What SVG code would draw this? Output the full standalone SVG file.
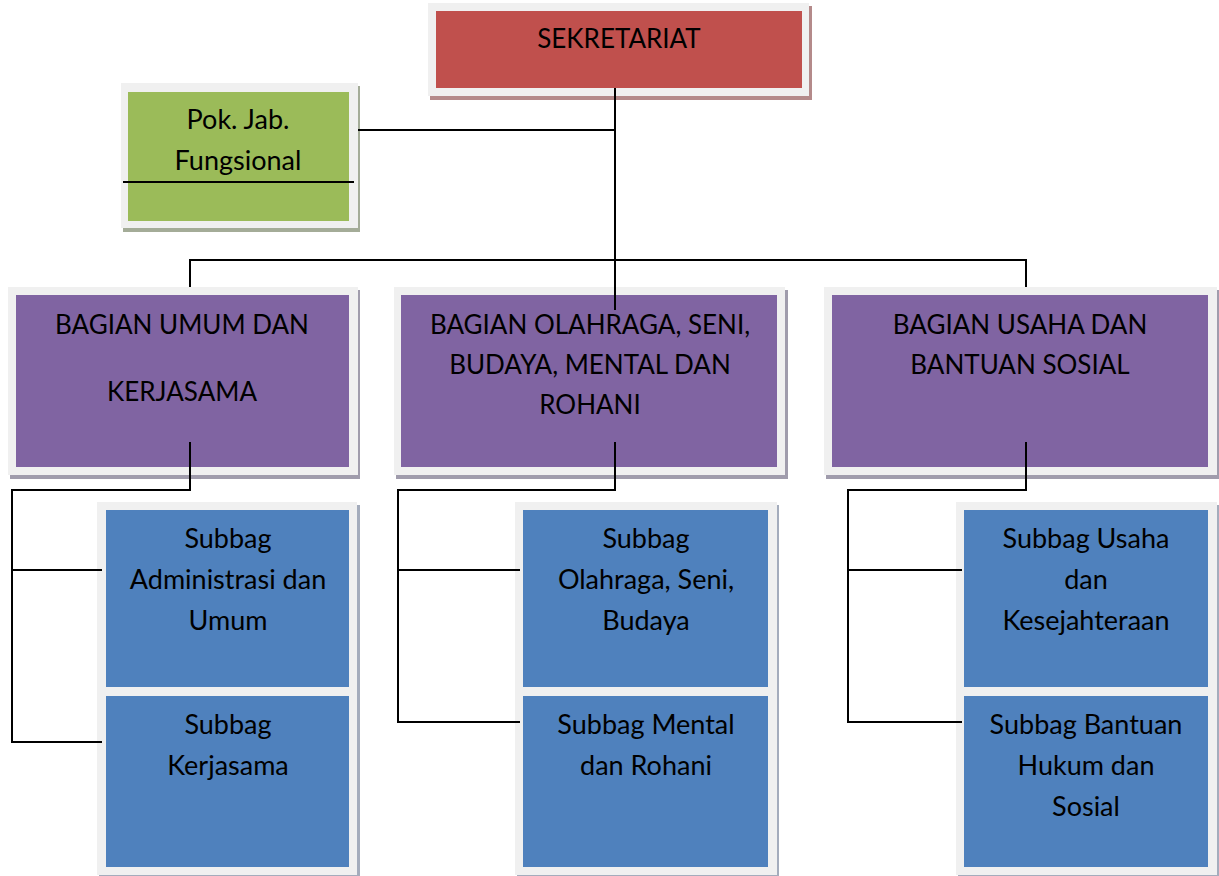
<svg xmlns="http://www.w3.org/2000/svg" width="1219" height="876" viewBox="0 0 1219 876">
<style>
.frame{fill:#f0f0f0}
.red{fill:#c0504d}
.green{fill:#9bbb59}
.purple{fill:#8064a2}
.blue{fill:#4f81bd}
text{font-family:Lato,"Open Sans","Liberation Sans",sans-serif;font-size:26px;fill:#000;text-anchor:middle}
text.lc{font-size:27px}
.conn{stroke:#000;stroke-width:2;fill:none}
</style>
<rect width="1219" height="876" fill="#fff"/>
<g id="sekretariat">
<rect x="430" y="6" width="382" height="94" fill="#b48a8a"/>
<rect class="frame" x="428" y="3" width="381" height="93"/>
<rect class="red" x="436" y="11" width="366" height="77"/>
<text x="619" y="48">SEKRETARIAT</text>
</g>
<g id="fungsional">
<rect x="123" y="86" width="237" height="146" fill="#a4ac98"/>
<rect class="frame" x="121" y="83" width="237" height="145"/>
<rect class="green" x="128" y="92" width="221" height="129"/>
<text class="lc" x="238" y="129">Pok. Jab.</text>
<text class="lc" x="238" y="170">Fungsional</text>
</g>
<g id="bagian-umum">
<rect x="10" y="290" width="350" height="189" fill="#a09cac"/>
<rect class="frame" x="8" y="287" width="350" height="188"/>
<rect class="purple" x="16" y="295" width="333" height="172"/>
<text x="182" y="334">BAGIAN UMUM DAN</text>
<text x="182" y="401">KERJASAMA</text>
</g>
<g id="bagian-olahraga">
<rect x="396" y="290" width="392" height="189" fill="#a09cac"/>
<rect class="frame" x="394" y="287" width="391" height="188"/>
<rect class="purple" x="401" y="295" width="376" height="172"/>
<text x="590" y="334">BAGIAN OLAHRAGA, SENI,</text>
<text x="590" y="374">BUDAYA, MENTAL DAN</text>
<text x="590" y="414">ROHANI</text>
</g>
<g id="bagian-usaha">
<rect x="826" y="290" width="393" height="189" fill="#a09cac"/>
<rect class="frame" x="824" y="287" width="393" height="188"/>
<rect class="purple" x="832" y="295" width="376" height="172"/>
<text x="1020" y="334">BAGIAN USAHA DAN</text>
<text x="1020" y="374">BANTUAN SOSIAL</text>
</g>
<g id="subbag-frames">
<rect x="99" y="505" width="261" height="372" fill="#a4acbc"/>
<rect class="frame" x="97" y="502" width="260" height="373"/>
<rect x="517" y="505" width="262" height="372" fill="#a4acbc"/>
<rect class="frame" x="515" y="502" width="262" height="373"/>
<rect x="958" y="505" width="261" height="372" fill="#a4acbc"/>
<rect class="frame" x="956" y="502" width="261" height="373"/>
</g>
<g id="subbag-administrasi">
<rect class="blue" x="106" y="510" width="243" height="177"/>
<text class="lc" x="228" y="548">Subbag</text>
<text class="lc" x="228" y="589">Administrasi dan</text>
<text class="lc" x="228" y="630">Umum</text>
</g>
<g id="subbag-kerjasama">
<rect class="blue" x="106" y="696" width="243" height="171"/>
<text class="lc" x="228" y="734">Subbag</text>
<text class="lc" x="228" y="775">Kerjasama</text>
</g>
<g id="subbag-olahraga">
<rect class="blue" x="523" y="510" width="245" height="177"/>
<text class="lc" x="646" y="548">Subbag</text>
<text class="lc" x="646" y="589">Olahraga, Seni,</text>
<text class="lc" x="646" y="630">Budaya</text>
</g>
<g id="subbag-mental">
<rect class="blue" x="523" y="696" width="245" height="171"/>
<text class="lc" x="646" y="734">Subbag Mental</text>
<text class="lc" x="646" y="775">dan Rohani</text>
</g>
<g id="subbag-usaha">
<rect class="blue" x="964" y="510" width="244" height="177"/>
<text class="lc" x="1086" y="548">Subbag Usaha</text>
<text class="lc" x="1086" y="589">dan</text>
<text class="lc" x="1086" y="630">Kesejahteraan</text>
</g>
<g id="subbag-bantuan">
<rect class="blue" x="964" y="696" width="244" height="171"/>
<text class="lc" x="1086" y="734">Subbag Bantuan</text>
<text class="lc" x="1086" y="775">Hukum dan</text>
<text class="lc" x="1086" y="816">Sosial</text>
</g>
<g id="connectors">
<path class="conn" d="M615 88V310"/>
<path class="conn" d="M358 130H615"/>
<path class="conn" d="M123 182H354"/>
<path class="conn" d="M190 287V260H1026V287"/>
<path class="conn" d="M190 442V490H12V742H102M12 570H102"/>
<path class="conn" d="M615 442V490H398V722H520M398 570H520"/>
<path class="conn" d="M1026 442V490H848V722H962M848 570H962"/>
</g>
</svg>
